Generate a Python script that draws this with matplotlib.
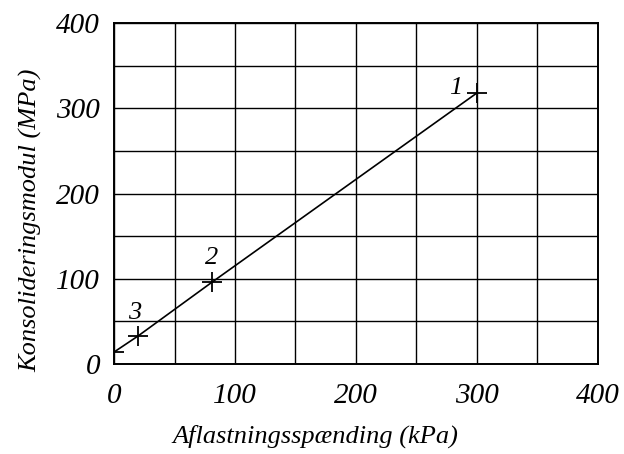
import numpy as np
import matplotlib.pyplot as plt

# aflastningsspaending (kPa) vs konsolideringsmodul (MPa)
sigma = [0, 20, 81, 300]
modul = [14, 33, 96, 318]
pt_labels = ["", "3", "2", "1"]
label_xy = [None, (17, 60), (81, 124), (282, 324)]

plt.rcParams['font.family'] = ['Liberation Serif', 'DejaVu Serif']
plt.rcParams['font.style'] = 'italic'

fig = plt.figure(figsize=(6.24, 4.54), dpi=100)
ax = fig.add_axes([0.1827, 0.1982, 0.7756, 0.7511])

ax.plot(sigma, modul, color='black', lw=1.2, marker='+', ms=14, mew=1.3)
for lab, xy in zip(pt_labels, label_xy):
    if lab:
        ax.text(xy[0], xy[1], lab, fontsize=19, ha='center', va='center')

ax.set_xlim(0, 400)
ax.set_ylim(0, 400)
ax.set_xticks([0, 100, 200, 300, 400])
ax.set_xticks(np.arange(50, 400, 100), minor=True)
ax.set_yticks([0, 100, 200, 300, 400])
ax.set_yticks(np.arange(50, 400, 100), minor=True)
ax.grid(True, which='both', color='black', lw=1.0)
ax.tick_params(which='both', length=0, labelsize=21)
ax.tick_params(axis='x', pad=14)
ax.tick_params(axis='y', pad=10)
for s in ax.spines.values():
    s.set_linewidth(1.4)

ax.set_xlabel("Aflastningsspænding (kPa)", fontsize=19)
ax.set_ylabel("Konsolideringsmodul (MPa)", fontsize=19)
ax.xaxis.set_label_coords(0.417, -0.179)
ax.yaxis.set_label_coords(-0.149, 0.42)

fig.savefig("out.png", dpi=100)
